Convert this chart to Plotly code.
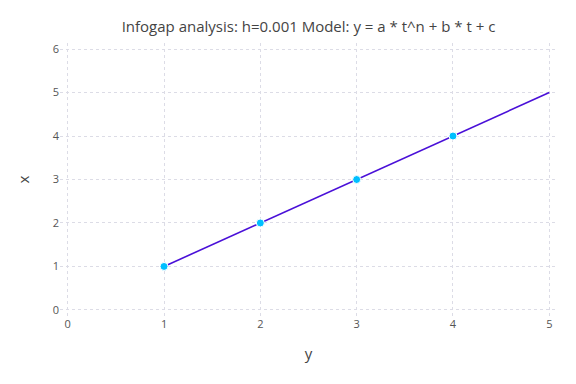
import plotly.graph_objects as go

line_x = [1, 2, 3, 4, 5]
line_y = [1, 2, 3, 4, 5]
pts_x = [1, 2, 3, 4]
pts_y = [1, 2, 3, 4]

fig = go.Figure()
fig.add_trace(go.Scatter(x=line_x, y=line_y, mode="lines",
                         line=dict(color="#4a10d8", width=1.6), showlegend=False))
fig.add_trace(go.Scatter(x=pts_x, y=pts_y, mode="markers",
                         marker=dict(color="#00bfff", size=8, line=dict(color="white", width=1)),
                         showlegend=False))

grid = dict(showgrid=True, gridcolor="#dcdce6", griddash="dot", gridwidth=1,
            zeroline=False, showline=False, ticks="", tickfont=dict(size=11, color="#555"))
fig.update_layout(
    width=576, height=384,
    paper_bgcolor="white", plot_bgcolor="white",
    font=dict(family="Open Sans, DejaVu Sans, sans-serif", color="#444"),
    title=dict(text="Infogap analysis: h=0.001 Model: y = a * t^n + b * t + c",
               x=0.5, xref="paper", xanchor="center", y=0.951, yanchor="middle",
               font=dict(size=15, color="#444")),
    margin=dict(l=52, r=27, t=35, b=76),
    xaxis=dict(range=[-0.08, 5.08], tickvals=[0, 1, 2, 3, 4, 5],
               title=dict(text="y", font=dict(size=15), standoff=18), **grid),
    yaxis=dict(range=[-0.14, 6.14], tickvals=[0, 1, 2, 3, 4, 5, 6],
               title=dict(text="x", font=dict(size=15), standoff=19), **grid),
)
fig.write_html("out.html")
